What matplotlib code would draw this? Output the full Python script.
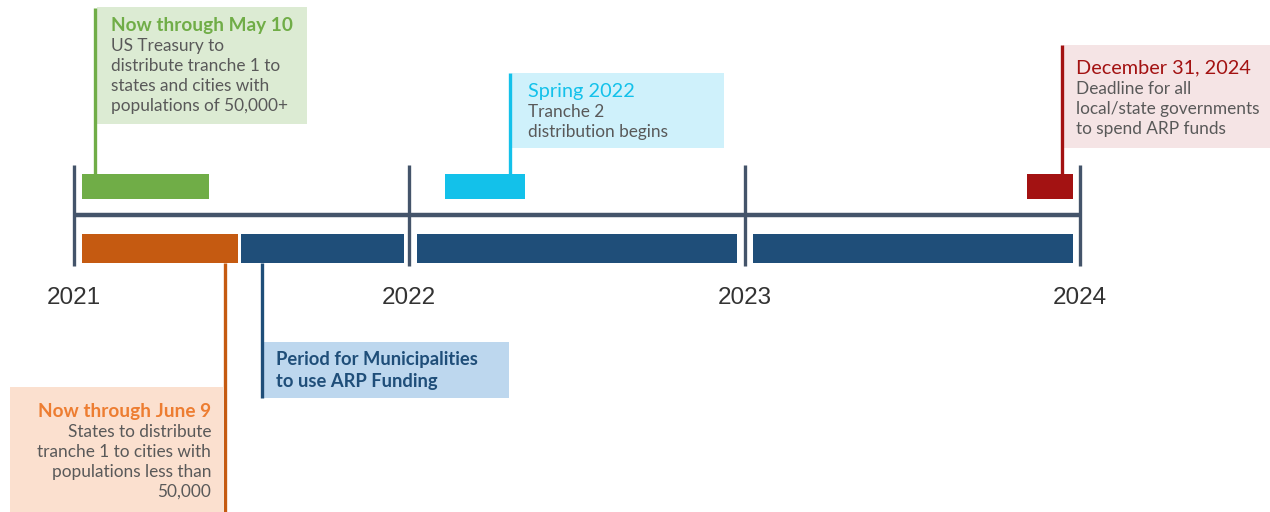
import matplotlib.pyplot as plt

# timeline ticks
years = [2021, 2022, 2023, 2024]

# top row events (start, end in fractional years)
top_starts = [2021.024, 2022.106, 2023.842]
top_ends = [2021.403, 2022.345, 2023.979]
top_colors = ['#70ad47', '#13c1ea', '#a31212']

# bottom row periods
bot_starts = [2021.024, 2021.498, 2022.023, 2023.025]
bot_ends = [2021.489, 2021.984, 2022.977, 2023.979]
bot_colors = ['#c55a11', '#1f4e79', '#1f4e79', '#1f4e79']

PX_PER_YEAR = 335.3
X0 = 74  # pixel of 2021

fig = plt.figure(figsize=(12.7, 5.12), dpi=100)
ax = fig.add_axes([0, 0, 1, 1])
ax.set_xlim(2021 - X0 / PX_PER_YEAR, 2021 + (1270 - X0) / PX_PER_YEAR)
ax.set_ylim(512, 0)
ax.axis('off')

axis_col = '#44546a'
ax.plot([years[0], years[-1]], [215, 215], color=axis_col, lw=3.2, solid_capstyle='butt', zorder=2)
for y in years:
    ax.plot([y, y], [165, 266], color=axis_col, lw=2.4, solid_capstyle='butt', zorder=2)
    ax.text(y, 298, str(y), ha='center', va='center', fontsize=17.5,
            color='#333333', family='Liberation Sans')

ax.barh(186.5, [e - s for s, e in zip(top_starts, top_ends)], left=top_starts,
        height=25, color=top_colors, zorder=3)
ax.barh(248.5, [e - s for s, e in zip(bot_starts, bot_ends)], left=bot_starts,
        height=29, color=bot_colors, zorder=3)

# annotation overlay in pixel coordinates
ov = fig.add_axes([0, 0, 1, 1])
ov.set_xlim(0, 1270)
ov.set_ylim(512, 0)
ov.axis('off')

FONT = 'Lato'
BODY = '#595959'


def callout(line_x, line_y0, line_y1, box, bg, col, title, body, tx, ty,
            ha='left', title_bold=True, title_col=None, bold_body=False, body_col=BODY):
    bx, by, bw, bh = box
    ov.add_patch(plt.Rectangle((bx, by), bw, bh, color=bg, lw=0, zorder=1))
    ov.plot([line_x, line_x], [line_y0, line_y1], color=col, lw=2.4,
            solid_capstyle='butt', zorder=2)
    y = ty
    if title:
        ov.text(tx, y, title, ha=ha, va='center',
                fontsize=13.7 if title_bold else 14.3, color=title_col or col,
                weight='bold' if title_bold else 'normal', family=FONT)
        y += 21
    for line in body:
        ov.text(tx, y, line, ha=ha, va='center',
                fontsize=13.2 if bold_body else 12.4, color=body_col,
                weight='bold' if bold_body else 'normal', family=FONT)
        y += 22 if bold_body else 20


callout(95, 8, 174, (97, 7, 210, 117), '#dcebd3', '#70ad47', 'Now through May 10',
        ['US Treasury to', 'distribute tranche 1 to', 'states and cities with',
         'populations of 50,000+'], 111, 25)
callout(510, 73, 174, (512, 73, 212, 75), '#cff1fb', '#13c1ea', 'Spring 2022',
        ['Tranche 2', 'distribution begins'], 528, 91, title_bold=False)
callout(1062, 45, 174, (1063, 45, 207, 103), '#f5e4e5', '#a31212', 'December 31, 2024',
        ['Deadline for all', 'local/state governments', 'to spend ARP funds'], 1076, 68,
        title_bold=False)
callout(262, 263, 398, (263, 342, 246, 56), '#bdd7ee', '#1f4e79', None,
        ['Period for Municipalities', 'to use ARP Funding'], 276, 359,
        bold_body=True, body_col='#1f4e79')
callout(225, 263, 512, (10, 387, 213, 125), '#fbe0cf', '#c55a11', 'Now through June 9',
        ['States to distribute', 'tranche 1 to cities with',
         'populations less than', '50,000'], 211, 411, ha='right', title_col='#ed7d31')

fig.savefig('out.png', dpi=100)
